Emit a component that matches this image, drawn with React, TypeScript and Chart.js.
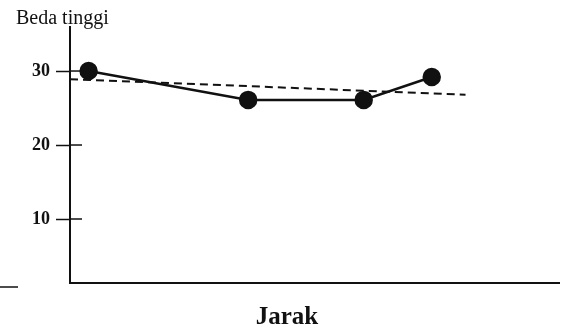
import React, { useEffect, useRef } from "react";
import { Chart, registerables } from "chart.js";
Chart.register(...registerables);

const jarak = [3.8, 36.4, 60, 73.9];
const bedaTinggi = [30, 26.1, 26.1, 29.2];
const trendX = [0, 80.8];
const trendY = [28.9, 26.8];
const yTicks = [10, 20, 30];
const yLabel = "Beda tinggi";
const xLabel = "Jarak";

const SERIF = "'Liberation Serif', 'DejaVu Serif', serif";

export default function App() {
  const ref = useRef<HTMLCanvasElement>(null);
  useEffect(() => {
    document.body.style.margin = "0";
    const ctx = ref.current!.getContext("2d")!;
    const extras = {
      id: "extras",
      afterDraw(chart: any) {
        const c = chart.ctx;
        const y = chart.scales.y;
        const area = chart.chartArea;
        c.save();
        c.strokeStyle = "#111";
        c.lineWidth = 1.5;
        yTicks.forEach((v) => {
          const py = y.getPixelForValue(v);
          c.beginPath();
          c.moveTo(area.left, py);
          c.lineTo(area.left + 12, py);
          c.stroke();
        });
        c.beginPath();
        c.moveTo(0, area.bottom + 4);
        c.lineTo(18, area.bottom + 4);
        c.stroke();
        c.fillStyle = "#111";
        c.font = `20px ${SERIF}`;
        c.textAlign = "left";
        c.textBaseline = "alphabetic";
        c.fillText(yLabel, 16, 24);
        c.font = `bold 25px ${SERIF}`;
        c.textAlign = "center";
        c.fillText(xLabel, 287, 324);
        c.restore();
      },
    };
    const chart = new Chart(ctx, {
      type: "scatter",
      data: {
        datasets: [
          {
            data: jarak.map((v, i) => ({ x: v, y: bedaTinggi[i] })),
            showLine: true,
            borderColor: "#111",
            backgroundColor: "#111",
            borderWidth: 2.5,
            pointRadius: 8,
            pointHoverRadius: 8,
          },
          {
            data: trendX.map((v, i) => ({ x: v, y: trendY[i] })),
            showLine: true,
            borderColor: "#111",
            borderWidth: 2,
            borderDash: [8, 5],
            pointRadius: 0,
          },
        ],
      },
      options: {
        animation: false,
        responsive: false,
        layout: { padding: { top: 27, right: 8, left: 0, bottom: 0 } },
        plugins: { legend: { display: false }, tooltip: { enabled: false } },
        scales: {
          x: {
            type: "linear",
            min: 0,
            max: 100,
            ticks: { display: false },
            grid: { display: false, drawTicks: false },
            border: { display: true, color: "#111", width: 2 },
            afterFit: (s: any) => {
              s.height = 47;
            },
          },
          y: {
            min: 1.35,
            max: 35.95,
            afterBuildTicks: (s: any) => {
              s.ticks = yTicks.map((v) => ({ value: v }));
            },
            ticks: {
              color: "#111",
              padding: 6,
              font: { family: SERIF, size: 18, weight: "bold" },
            },
            grid: {
              drawOnChartArea: false,
              tickLength: 14,
              color: "#111",
              tickWidth: 1.5,
            },
            border: { display: true, color: "#111", width: 2 },
            afterFit: (s: any) => {
              s.width = 70;
            },
          },
        },
      },
      plugins: [extras],
    } as any);
    return () => chart.destroy();
  }, []);
  return <canvas ref={ref} width={570} height={330} style={{ display: "block" }} />;
}
